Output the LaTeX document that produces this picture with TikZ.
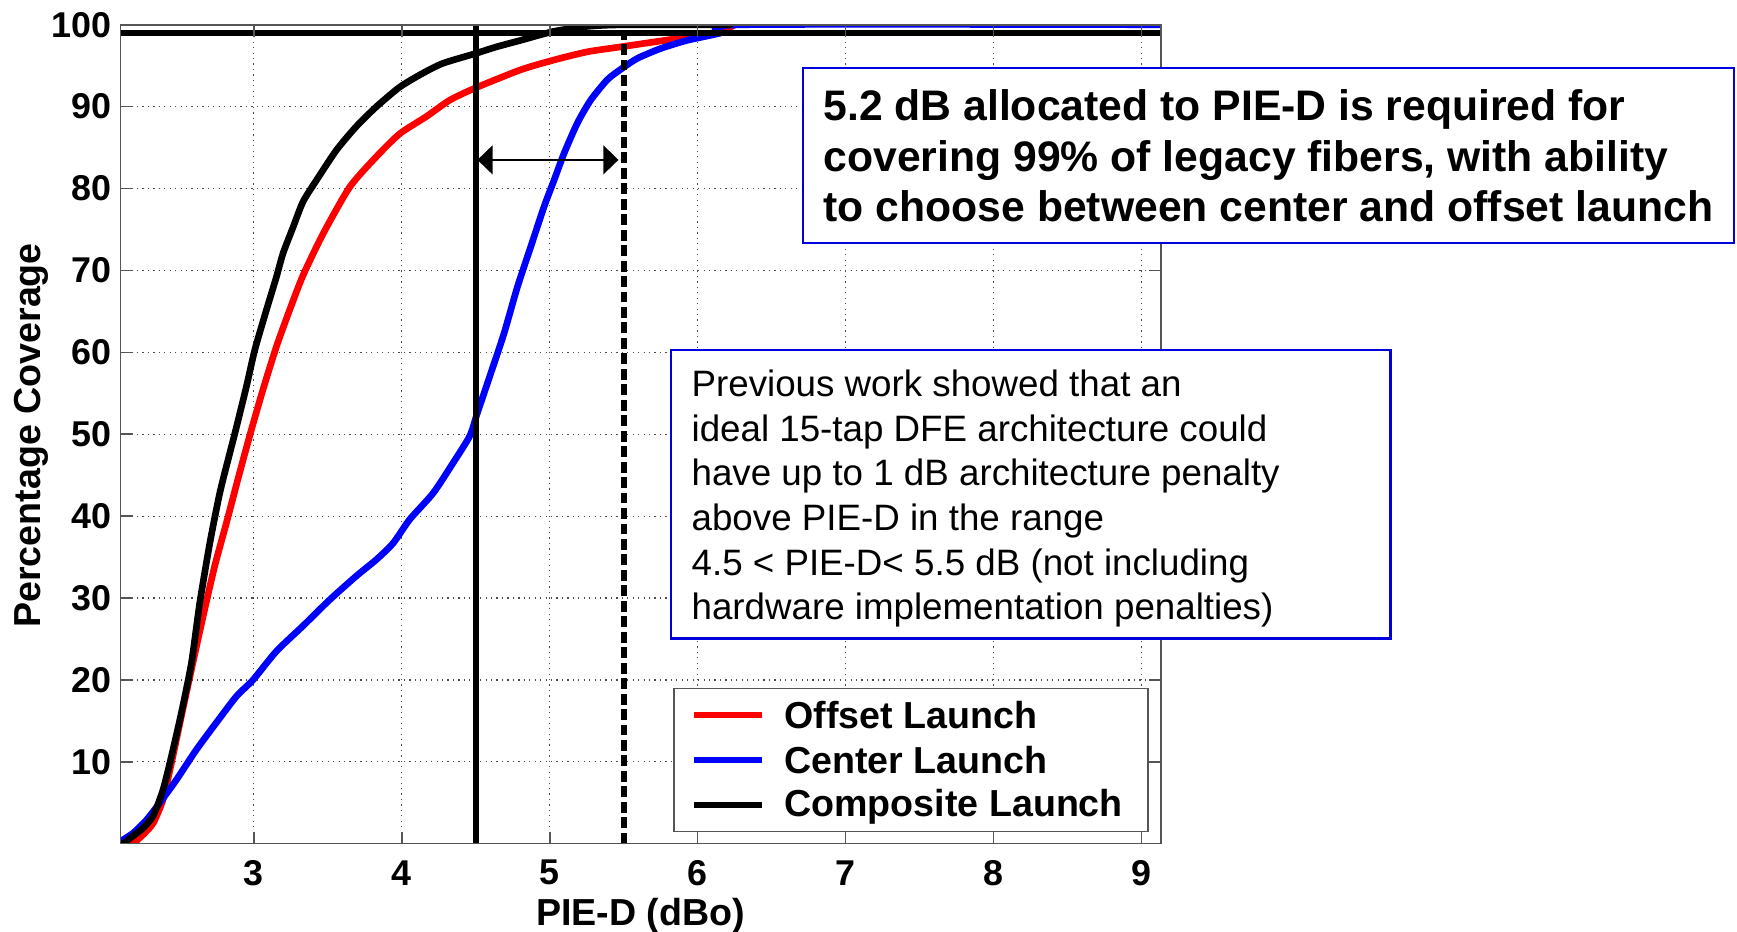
\documentclass[tikz,border=0pt]{standalone}
\usepackage{fontspec}
\setmainfont{Liberation Sans}
\usepackage{xcolor}
\definecolor{axisgray}{HTML}{555555}
\definecolor{boxblue}{HTML}{0000DD}
\usepackage{tikz}
\usetikzlibrary{arrows.meta}

\tikzset{
    cdf/.style={line width=1.9pt, line join=round, line cap=round},
    gridline/.style={line width=0.35pt, black!70, dash pattern=on 0.35pt off 1.2pt},
    axisline/.style={line width=0.45pt, axisgray},
    refline/.style={line width=1.7pt, black},
    gaparrow/.style={line width=0.6pt, {Triangle[length=4.3pt,width=8.2pt]}-{Triangle[length=4.3pt,width=8.2pt]},
        shorten <=0.5pt, shorten >=1.5pt},
    ticklab/.style={font=\fontsize{10.2}{12}\selectfont\bfseries},
    axislab/.style={font=\fontsize{10.7}{12}\selectfont\bfseries},
    notebox/.style={draw=boxblue, line width=0.6pt, fill=white},
    legtext/.style={anchor=west, font=\fontsize{10.7}{12}\selectfont\bfseries},
}

\begin{document}
\begin{tikzpicture}
            \useasboundingbox (0, 0) rectangle (17.37, 9.32);

            \begin{scope}[xshift=-1.9014cm, yshift=0.883cm, x=1.4797cm, y=0.0819cm]
                % grid
                \foreach \xv in {3,...,9}
                    \draw[gridline] (\xv, 0) to (\xv, 100);
                \foreach \yv in {10,20,...,90}
                    \draw[gridline] (2.1, \yv) to (9.13, \yv);

                \begin{scope}
                    \clip (2.1, 0) rectangle (9.13, 100);
                    % offset launch
                    \draw[cdf, red] plot [smooth, tension=.4] coordinates {(2.185, 0) (2.252, 1.1) (2.32, 2.5) (2.387, 5.4) (2.444, 9.9) (2.511, 15.6) (2.579, 21.3) (2.658, 27.8) (2.736, 33.9) (2.82, 39.5) (2.90, 45.0) (2.98, 50.3) (3.063, 55.5) (3.153, 60.7) (3.243, 65.2) (3.333, 69.4) (3.469, 74.5) (3.649, 80.2) (3.829, 83.9) (3.987, 86.7) (4.167, 88.8) (4.325, 90.8) (4.5, 92.3) (4.804, 94.5) (5.029, 95.7) (5.255, 96.7) (5.48, 97.3) (5.705, 97.9) (5.93, 98.5) (6.156, 99.2) (6.25, 100)};
                    % center launch
                    \draw[cdf, blue] plot [smooth, tension=.4] coordinates {(2.1, 0.3) (2.185, 1.3) (2.275, 2.9) (2.365, 5.0) (2.477, 7.8) (2.613, 11.5) (2.748, 14.8) (2.883, 18.0) (2.995, 20.0) (3.153, 23.5) (3.333, 26.6) (3.514, 29.8) (3.694, 32.7) (3.829, 34.7) (3.942, 36.7) (4.054, 39.6) (4.212, 42.8) (4.347, 46.5) (4.46, 49.8) (4.511, 52.6) (4.601, 57.4) (4.691, 62.3) (4.782, 68.0) (4.872, 72.9) (4.962, 77.8) (5.029, 81.0) (5.097, 84.3) (5.187, 88.0) (5.277, 90.8) (5.39, 93.3) (5.491, 94.7) (5.593, 95.9) (5.75, 97.1) (5.93, 98.1) (6.156, 99.0) (6.3, 100) (9.2, 100)};
                    % composite launch
                    \draw[cdf, black] plot [smooth, tension=.4] coordinates {(2.117, 0) (2.196, 1.1) (2.252, 1.9) (2.32, 3.4) (2.387, 6.6) (2.444, 10.7) (2.511, 16.0) (2.579, 22.1) (2.635, 29.4) (2.703, 36.7) (2.77, 42.8) (2.838, 47.7) (2.875, 50.3) (2.95, 55.8) (3.007, 60.3) (3.086, 65.2) (3.153, 69.2) (3.198, 72.1) (3.266, 75.3) (3.333, 78.4) (3.423, 81.0) (3.559, 84.7) (3.694, 87.6) (3.829, 90.0) (3.987, 92.4) (4.144, 94.1) (4.28, 95.3) (4.5, 96.5) (4.64, 97.3) (4.804, 98.1) (5.029, 99.2) (5.255, 99.8) (5.5, 100) (6.22, 100)};
                \end{scope}

                % 99 % level and the 4.5 / 5.5 dB marks
                \draw[refline] (2.1, 99) to (9.13, 99);
                \draw[refline] (4.5, 0) to (4.5, 100);
                \draw[refline, dash pattern=on 3.1pt off 1.3pt] (5.5, 0) to (5.5, 99);

                \coordinate (lo) at (4.5, 83.5);
                \coordinate (hi) at (5.5, 83.5);
                \draw[gaparrow] (lo) to (hi);

                % axes
                \draw[axisline] (2.1, 0) rectangle (9.13, 100);
                \foreach \xv in {3,...,9} {
                    \draw[axisline] (\xv, 0) to ++(0cm, 0.12cm);
                    \draw[axisline] (\xv, 100) to ++(0cm, -0.12cm);
                    \node[ticklab] (xt\xv) at (\xv, 0) [yshift=-0.29cm] {\xv};
                }
                \foreach \yv in {10,20,...,100} {
                    \draw[axisline] (2.1, \yv) to ++(0.12cm, 0cm);
                    \draw[axisline] (9.13, \yv) to ++(-0.12cm, 0cm);
                    \node[ticklab, anchor=east, inner xsep=0pt] (yt\yv) at (2.1, \yv) [xshift=-0.087cm] {\yv};
                }
            \end{scope}

            \node[axislab, anchor=base] (xlab) at (6.406, 0.06) {PIE-D (dBo)};
            \node[axislab, rotate=90] (ylab) at (0.31, 4.966) {Percentage Coverage};

            % notes
            \node[notebox, minimum width=9.313cm, minimum height=1.75cm, align=left,
                font=\fontsize{12.15}{14.34}\selectfont\bfseries] (allocnote) at (12.684, 7.762)
                {5.2 dB allocated to PIE-D is required for\\covering 99\% of legacy fibers, with ability\\to choose between center and offset launch};
            \node[notebox, minimum width=7.198cm, minimum height=2.885cm] (dfenote) at (10.306, 4.378) {};
            \node[anchor=west, inner sep=0pt, align=left, font=\fontsize{10.45}{12.72}\selectfont]
                (dfetext) at (dfenote.west) [xshift=0.213cm, yshift=-0.045cm]
                {Previous work showed that an\\ideal 15-tap DFE architecture could\\have up to 1 dB architecture penalty\\above PIE-D in the range\\4.5 < PIE-D< 5.5 dB (not including\\hardware implementation penalties)};

            % legend
            \node[draw=axisgray, line width=0.45pt, fill=white, minimum width=4.74cm, minimum height=1.434cm,
                inner sep=0pt] (legend) at (9.11, 1.72) {};
            \draw[line width=1.9pt, red] (6.943, 2.17) to (7.617, 2.17);
            \draw[line width=1.9pt, blue] (6.943, 1.72) to (7.617, 1.72);
            \draw[line width=1.9pt, black] (6.943, 1.27) to (7.617, 1.27);
            \node[legtext] (offset) at (7.72, 2.17) {Offset Launch};
            \node[legtext] (center) at (7.72, 1.72) {Center Launch};
            \node[legtext] (composite) at (7.72, 1.25) {Composite Launch};
        \end{tikzpicture}
\end{document}
